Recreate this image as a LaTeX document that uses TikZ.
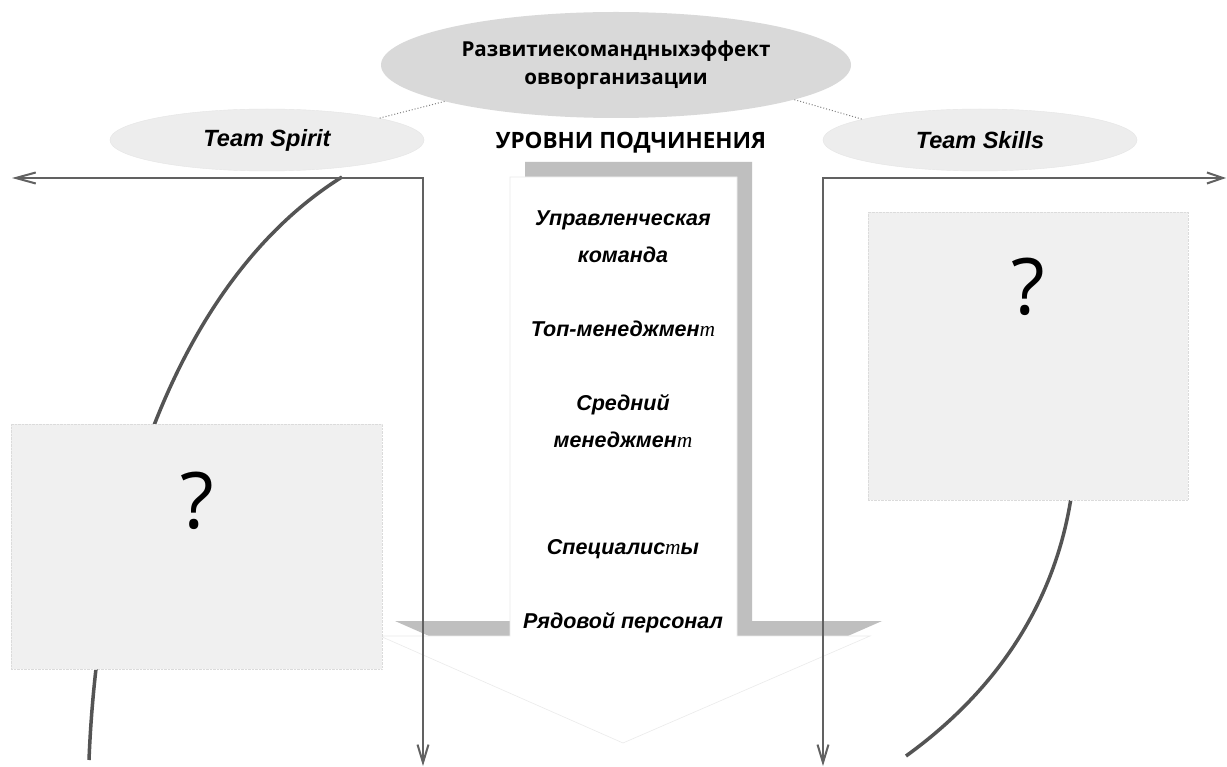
\documentclass[tikz,border=0pt]{standalone}
\usepackage{fontspec}
\setmainfont{Liberation Sans}
\newfontfamily\headfont{Open Sans}
\newfontfamily\oddfont{Liberation Serif}
\usetikzlibrary{shapes.geometric}
\usetikzlibrary{arrows.meta}
\newcommand{\oddt}{{\oddfont\mdseries\itshape т}}

\tikzset{
  oval/.style={ellipse, draw=black!10, fill=black!7, inner sep=0pt},
  qbox/.style={rectangle, draw=black!14, densely dotted, fill=black!6, inner sep=0pt},
  lvl/.style={font=\fontsize{21.5}{37}\selectfont\bfseries\itshape, align=center},
  conn/.style={draw=black!62, line width=2pt},
  curve/.style={draw=black!67, line width=3.5pt},
  tie/.style={draw=black!50, dotted, line width=1pt},
}

\begin{document}
\begin{tikzpicture}[x=1pt,y=-1pt]
    \fill[white] (0,0) rectangle (1227,767);
    \useasboundingbox (0,0) rectangle (1227,767);

    % 箭头阴影
    \fill[black!25] (525,162) -- (752,162) -- (752,621) -- (882,621) -- (638,728) -- (395,621) -- (525,621) -- cycle;
    % 白色箭头
    \filldraw[fill=white, draw=black!8, line width=0.6pt] (510,177) -- (737,177) -- (737,636) -- (870,636) -- (623,743) -- (380,636) -- (510,636) -- cycle;

    % 椭圆
    \node[oval, fill=black!15, draw=none, minimum width=470pt, minimum height=106pt,
          font=\headfont\bfseries\fontsize{20.6}{28}\selectfont, align=center] (top) at (616,65)
          {Развитиекомандныхэффект\\овворганизации};
    \node[oval, minimum width=314pt, minimum height=62pt, font=\fontsize{23.5}{26}\selectfont\bfseries\itshape] (spirit) at (267,140) {Team Spirit};
    \node[oval, minimum width=314pt, minimum height=62pt, font=\fontsize{23.5}{26}\selectfont\bfseries\itshape] (skills) at (980,140) {Team Skills};
    \draw[tie] (top.192) -- (spirit.11);
    \draw[tie] (top.349) -- (skills.170);

    \node[font=\headfont\bfseries\fontsize{22.5}{27}\selectfont] (title) at (631,143) {УРОВНИ ПОДЧИНЕНИЯ};

    % 曲线
    \coordinate (c1a) at (342,177);
    \coordinate (c1b) at (89,760);
    \draw[curve] (c1a) .. controls (182,277) and (99,510) .. (c1b);
    \coordinate (c2a) at (1071,498);
    \coordinate (c2b) at (906,756);
    \draw[curve] (c2a) .. controls (1055,600) and (1000,688) .. (c2b);

    % 方框
    \node[qbox, minimum width=371pt, minimum height=245pt] (lbox) at (196.5,546.5) {};
    \node[qbox, minimum width=320pt, minimum height=288pt] (rbox) at (1028,356) {};
    \node[font=\headfont\fontsize{78}{80}\selectfont] (lq) at (197,501) {?};
    \node[font=\headfont\fontsize{78}{80}\selectfont] (rq) at (1028,287) {?};

    % 层级
    \node[lvl] (lv1) at (623,237) {Управленческая\\команда};
    \node[lvl] (lv2) at (623,329) {Топ-менеджмен\oddt};
    \node[lvl] (lv3) at (623,421) {Средний\\менеджмен\oddt};
    \node[lvl] (lv4) at (623,549) {Специалис\oddt ы};
    \node[lvl] (lv5) at (623,623) {Рядовой персонал};

    % 连接箭头
    \coordinate (lw) at (12,178);
    \coordinate (lc) at (423,178);
    \coordinate (ls) at (423,766);
    \draw[conn, {Straight Barb[length=20pt,width=11pt]}-{Straight Barb[length=18pt,width=11pt]}] (lw) -- (lc) -- (ls);
    \coordinate (re) at (1226,178);
    \coordinate (rc) at (823,178);
    \coordinate (rs) at (823,766);
    \draw[conn, {Straight Barb[length=18pt,width=11pt]}-{Straight Barb[length=16pt,width=11pt]}] (rs) -- (rc) -- (re);
\end{tikzpicture}
\end{document}
